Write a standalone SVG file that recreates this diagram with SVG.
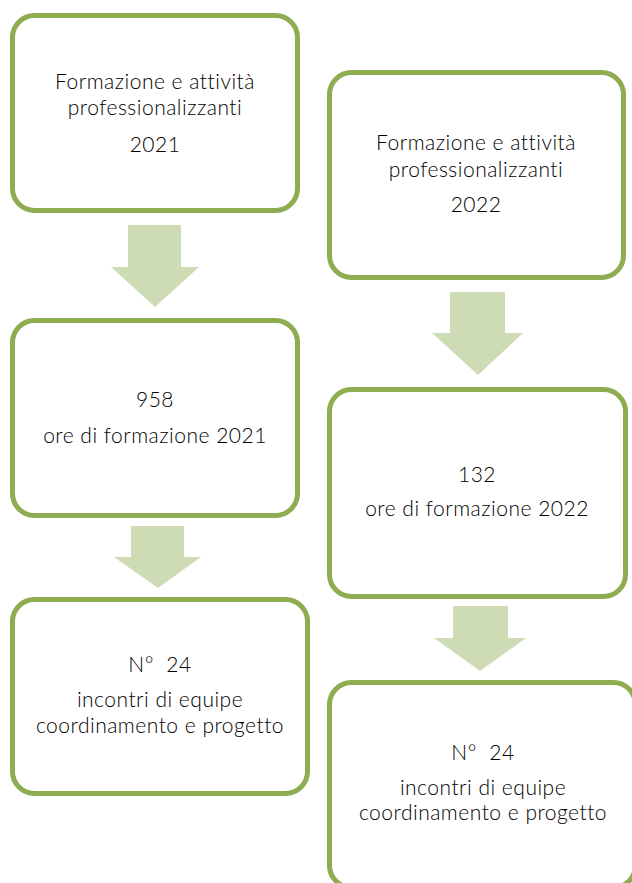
<svg xmlns="http://www.w3.org/2000/svg" width="632" height="883" viewBox="0 0 632 883">
<style>
.box{fill:#fff;stroke:#8EAC50;stroke-width:5}
.arr{fill:#CEDCB6}
text{font-family:Lato,"Liberation Sans",sans-serif;font-size:21px;letter-spacing:0.5px;fill:#000;text-anchor:middle;font-weight:300}
</style>
<rect width="632" height="883" fill="#fff"/>
<g id="connectors">
<polygon class="arr" points="128,225 181,225 181,267 199,267 155,307 111,267 128,267"/>
<polygon class="arr" points="131,526 184,526 184,557 201,557 158,588 114,557 131,557"/>
<polygon class="arr" points="450,292 505,292 505,333 523,333 478,375 432,333 450,333"/>
<polygon class="arr" points="453,606 508,606 508,638 526,638 480,671 434,638 453,638"/>
</g>
<g id="n1">
<rect class="box" x="12.5" y="15.5" width="285" height="195" rx="22"/>
<text x="155" y="89">Formazione e attività</text>
<text x="155" y="115">professionalizzanti</text>
<text x="155" y="152">2021</text>
</g>
<g id="n2">
<rect class="box" x="12.5" y="320.5" width="285" height="195" rx="22"/>
<text x="155" y="407">958</text>
<text x="155" y="443">ore di formazione 2021</text>
</g>
<g id="n3">
<rect class="box" x="12.5" y="599.5" width="295" height="194" rx="22"/>
<text x="160" y="672" xml:space="preserve">N°  24</text>
<text x="160" y="707">incontri di equipe</text>
<text x="160" y="733">coordinamento e progetto</text>
</g>
<g id="n4">
<rect class="box" x="329.5" y="72.5" width="294" height="205" rx="22"/>
<text x="476" y="150">Formazione e attività</text>
<text x="476" y="177">professionalizzanti</text>
<text x="476" y="212">2022</text>
</g>
<g id="n5">
<rect class="box" x="329.5" y="389.5" width="296" height="207" rx="22"/>
<text x="477" y="482">132</text>
<text x="477" y="516">ore di formazione 2022</text>
</g>
<g id="n6">
<rect class="box" x="329.5" y="682.5" width="306" height="205" rx="22"/>
<text x="483" y="760" xml:space="preserve">N°  24</text>
<text x="483" y="795">incontri di equipe</text>
<text x="483" y="820">coordinamento e progetto</text>
</g>
</svg>
